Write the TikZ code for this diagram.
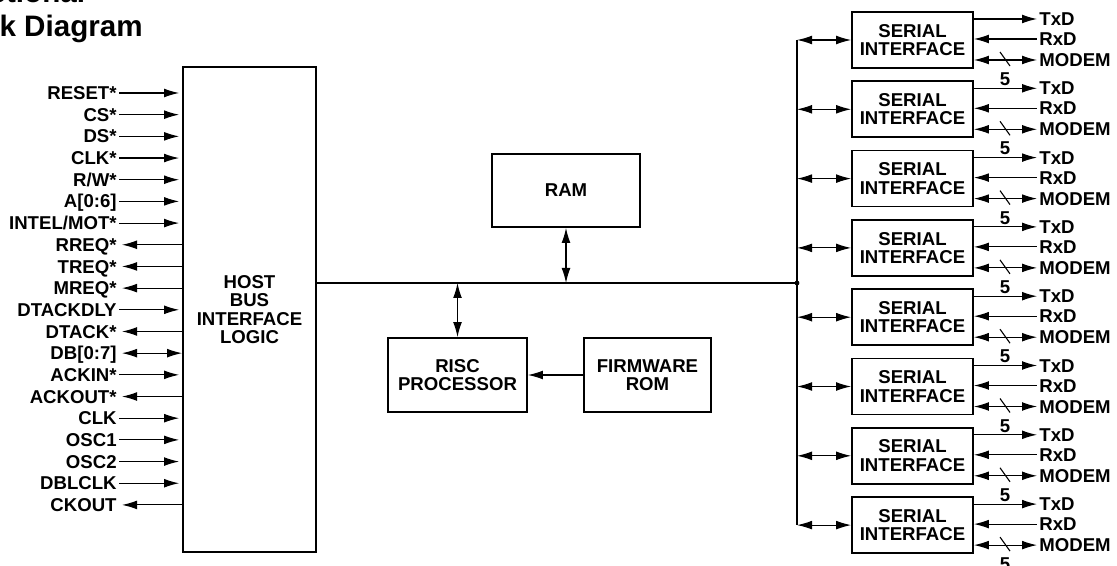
\documentclass[tikz,border=0pt]{standalone}
\usepackage{fontspec}
\setmainfont{Liberation Sans}
\usepackage{tikz}
\usetikzlibrary{arrows.meta}
\tikzset{box/.style={draw,line width=0.9pt,inner sep=0pt,align=center,
        font=\bfseries\fontsize{9.3}{9.3}\selectfont},
    sig/.style={inner sep=1pt,text height=6.6pt,text depth=0pt,
        font=\bfseries\fontsize{9.3}{9.3}\selectfont},
    heading/.style={inner sep=0pt,font=\bfseries\fontsize{14.8}{16}\selectfont},
    wire/.style={line width=0.55pt},
    sigin/.style={->,shorten >=1.5pt},
    sigout/.style={<-,shorten <=1.5pt},
    sigboth/.style={<->,shorten <=1.5pt},
    >={Latex[length=7.5pt,width=4.4pt]}}

\begin{document}
\begin{tikzpicture}[x=0.5pt,y=-0.5pt]
    \useasboundingbox (0,0) rectangle (1117,566);
    \node[heading,anchor=base west] (ttl1) at (-65,3) {Functional};
    \node[heading,anchor=base west] (ttl2) at (-65,37) {Block Diagram};

    \node[box,minimum width=66.5pt,minimum height=242.5pt] (host) at (249.5,309.5)
        {HOST\\BUS\\INTERFACE\\LOGIC};
    \foreach \lab/\dir [count=\i from 0] in {RESET*/sigin, CS*/sigin, DS*/sigin,
        CLK*/sigin, {R/W*}/sigin, A[0:6]/sigin, {INTEL/MOT*}/sigin, RREQ*/sigout,
        TREQ*/sigout, MREQ*/sigout, DTACKDLY/sigin, DTACK*/sigout, DB[0:7]/sigboth,
        ACKIN*/sigin, ACKOUT*/sigout, CLK/sigin, OSC1/sigin, OSC2/sigin,
        DBLCLK/sigin, CKOUT/sigout} {
        \node[sig,anchor=east] (s\i) at (119,93+21.68*\i) {\lab};
        \draw[wire,\dir] (s\i.east) -- (s\i.east -| host.west);
    }

    \node[box,minimum width=74pt,minimum height=36.5pt] (ram) at (566,190.5) {RAM};
    \node[box,minimum width=69.5pt,minimum height=37pt] (risc) at (457.5,375)
        {RISC\\PROCESSOR};
    \node[box,minimum width=63.5pt,minimum height=37pt] (rom) at (647.5,375)
        {FIRMWARE\\ROM};

    \foreach \k [evaluate=\k as \cy using 40+69.3*\k] in {0,...,7} {
        \node[box,minimum width=60.5pt,minimum height=28pt] (ser\k) at (912.5,\cy)
            {SERIAL\\INTERFACE};
        \node[sig,anchor=west] (tx\k) at (1037,\cy-21) {TxD};
        \node[sig,anchor=west] (rx\k) at (1037,\cy-1) {RxD};
        \node[sig,anchor=west] (md\k) at (1037,\cy+20) {MODEM};
        \node[sig] (w\k) at (1005,\cy+39) {5};
        \draw[wire,->] (ser\k.east |- tx\k.west) -- (tx\k.west);
        \draw[wire,<-] (ser\k.east |- rx\k.west) -- (rx\k.west);
        \draw[wire,<->] (ser\k.east |- md\k.west) -- (md\k.west);
        \draw[wire] (1000,\cy+12) -- (1010,\cy+26);
    }

    \coordinate (jn) at (797,283);
    \draw[wire] (host.east |- jn) -- (jn);
    \fill (jn) circle (1.2pt);
    \draw[wire] (ser0.west -| jn) -- (ser7.west -| jn);
    \foreach \k in {0,...,7}
        \draw[wire,<->] (ser\k.west -| jn) -- (ser\k.west);
    \draw[wire,<->] (ram.south) -- (ram.south |- jn);
    \draw[wire,<->] (risc.north |- jn) -- (risc.north);
    \draw[wire,->] (rom.west) -- (risc.east);
\end{tikzpicture}
\end{document}
